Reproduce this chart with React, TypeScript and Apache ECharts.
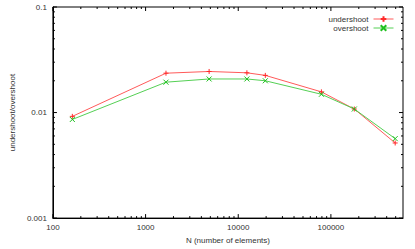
import React, { useEffect, useRef } from 'react';
import * as echarts from 'echarts';

const nValues = [162, 1660, 4850, 12400, 19600, 79000, 179000, 494000];
const undershoot = [0.0092, 0.0236, 0.0245, 0.0238, 0.0225, 0.0157, 0.0108, 0.00515];
const overshoot = [0.0086, 0.0194, 0.0208, 0.0208, 0.0200, 0.0149, 0.0108, 0.00566];
const xMajorTicks = [100, 1000, 10000, 100000];
const yMajorTicks = [0.001, 0.01, 0.1];
const xMinorTicks = [
  200, 300, 400, 500, 600, 700, 800, 900,
  2000, 3000, 4000, 5000, 6000, 7000, 8000, 9000,
  20000, 30000, 40000, 50000, 60000, 70000, 80000, 90000,
  200000, 300000, 400000, 500000,
];
const yMinorTicks = [
  0.002, 0.003, 0.004, 0.005, 0.006, 0.007, 0.008, 0.009,
  0.02, 0.03, 0.04, 0.05, 0.06, 0.07, 0.08, 0.09,
];

const X_MIN = 100;
const X_MAX = 600000;
const Y_MIN = 0.001;
const Y_MAX = 0.1;

const plusPath = 'path://M0,5L10,5M5,0L5,10';
const crossPath = 'path://M0,0L10,10M10,0L0,10';

export default function App() {
  const ref = useRef<HTMLDivElement>(null);
  useEffect(() => {
    if (!ref.current) return;
    const chart = echarts.init(ref.current, undefined, { renderer: 'svg' });
    const font = 'Liberation Sans, Arial, sans-serif';
    const textColor = '#333';

    const xTickData = [
      ...xMajorTicks.map((v) => [v, 1]),
      ...xMinorTicks.map((v) => [v, 0]),
    ];
    const yTickData = [
      ...yMajorTicks.map((v) => [v, 1]),
      ...yMinorTicks.map((v) => [v, 0]),
    ];

    chart.setOption({
      animation: false,
      backgroundColor: '#fff',
      grid: {
        left: 42,
        right: 12,
        top: 7,
        bottom: 25,
        show: true,
        borderColor: '#000',
        borderWidth: 1,
        backgroundColor: 'transparent',
      },
      legend: {
        orient: 'vertical',
        right: 16,
        top: 10,
        align: 'right',
        itemWidth: 20,
        itemHeight: 7,
        itemGap: 1,
        lineStyle: { width: 1 },
        textStyle: { fontFamily: font, fontSize: 8, color: textColor },
        data: ['undershoot', 'overshoot'],
      },
      xAxis: {
        type: 'log',
        logBase: 10,
        min: X_MIN,
        max: X_MAX,
        name: 'N (number of elements)',
        nameLocation: 'middle',
        nameGap: 15,
        nameTextStyle: { fontFamily: font, fontSize: 8, color: textColor },
        axisLine: { show: true, lineStyle: { color: '#000', width: 1 } },
        axisTick: { show: false },
        splitLine: { show: false },
        axisLabel: {
          fontFamily: font,
          fontSize: 8,
          color: textColor,
          margin: 5,
          formatter: (v: number) => (xMajorTicks.some((t) => Math.abs(t - v) / t < 1e-6) ? String(v) : ''),
        },
      },
      yAxis: {
        type: 'log',
        logBase: 10,
        min: Y_MIN,
        max: Y_MAX,
        name: 'undershoot/overshoot',
        nameLocation: 'middle',
        nameGap: 32,
        nameRotate: 90,
        nameTextStyle: { fontFamily: font, fontSize: 8, color: textColor },
        axisLine: { show: true, lineStyle: { color: '#000', width: 1 } },
        axisTick: { show: false },
        splitLine: { show: false },
        axisLabel: {
          fontFamily: font,
          fontSize: 8,
          color: textColor,
          margin: 6,
          formatter: (v: number) => {
            const t = yMajorTicks.find((m) => Math.abs(m - v) / m < 1e-6);
            return t !== undefined ? String(t) : '';
          },
        },
      },
      series: [
        {
          name: 'undershoot',
          type: 'line',
          data: nValues.map((n, i) => [n, undershoot[i]]),
          symbol: plusPath,
          symbolSize: 5,
          lineStyle: { color: '#ff5a5a', width: 1 },
          itemStyle: { color: '#ff2a2a', borderColor: '#ff2a2a', borderWidth: 1 },
          z: 3,
        },
        {
          name: 'overshoot',
          type: 'line',
          data: nValues.map((n, i) => [n, overshoot[i]]),
          symbol: crossPath,
          symbolSize: 5,
          lineStyle: { color: '#55d055', width: 1 },
          itemStyle: { color: '#1ec01e', borderColor: '#1ec01e', borderWidth: 1 },
          z: 3,
        },
        {
          type: 'custom',
          silent: true,
          clip: false,
          legendHoverLink: false,
          data: xTickData,
          renderItem: (params: any, api: any) => {
            const v = api.value(0);
            const major = api.value(1) === 1;
            const len = major ? 4 : 2;
            const b = api.coord([v, Y_MIN]);
            const t = api.coord([v, Y_MAX]);
            const style = { stroke: '#000', lineWidth: 1 };
            return {
              type: 'group',
              children: [
                { type: 'line', shape: { x1: b[0], y1: b[1], x2: b[0], y2: b[1] - len }, style },
                { type: 'line', shape: { x1: t[0], y1: t[1], x2: t[0], y2: t[1] + len }, style },
              ],
            };
          },
          z: 4,
        },
        {
          type: 'custom',
          silent: true,
          clip: false,
          legendHoverLink: false,
          data: yTickData.map((d) => [X_MIN, d[0], d[1]]),
          encode: { x: 0, y: 1 },
          renderItem: (params: any, api: any) => {
            const v = api.value(1);
            const major = api.value(2) === 1;
            const len = major ? 4 : 2;
            const l = api.coord([X_MIN, v]);
            const r = api.coord([X_MAX, v]);
            const style = { stroke: '#000', lineWidth: 1 };
            return {
              type: 'group',
              children: [
                { type: 'line', shape: { x1: l[0], y1: l[1], x2: l[0] + len, y2: l[1] }, style },
                { type: 'line', shape: { x1: r[0], y1: r[1], x2: r[0] - len, y2: r[1] }, style },
              ],
            };
          },
          z: 4,
        },
      ],
    });
    return () => chart.dispose();
  }, []);
  return <div ref={ref} style={{ width: 415, height: 249, position: 'absolute', left: 0, top: 0 }} />;
}
